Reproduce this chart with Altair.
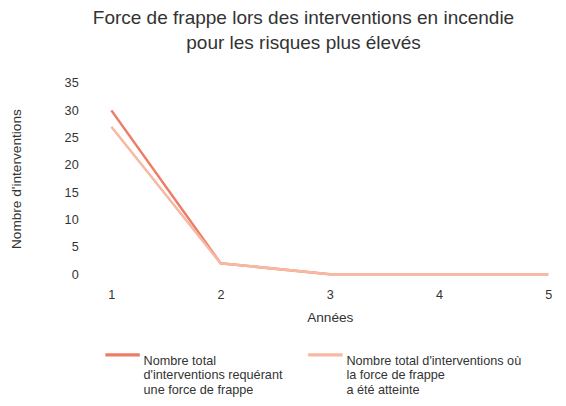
import altair as alt
import pandas as pd

years = [1, 2, 3, 4, 5]
series_names = [
    "Nombre total|d'interventions requérant|une force de frappe",
    "Nombre total d'interventions où|la force de frappe|a été atteinte",
]
requerant = [30, 2, 0, 0, 0]
atteinte = [27, 2, 0, 0, 0]
colors = ["#ee7d68", "#f7b9a4"]

rows = []
for y, v in zip(years, requerant):
    rows.append({"Année": y, "Valeur": v, "Série": series_names[0]})
for y, v in zip(years, atteinte):
    rows.append({"Année": y, "Valeur": v, "Série": series_names[1]})
df = pd.DataFrame(rows)

FONT = "Liberation Sans Narrow, Liberation Sans, Arial Narrow, sans-serif"

chart = alt.Chart(df).mark_line(strokeWidth=2.6).encode(
    x=alt.X("Année:Q",
            scale=alt.Scale(domain=[1, 5], nice=False, zero=False),
            axis=alt.Axis(values=years, format="d", title="Années",
                          labelPadding=15, titlePadding=9, tickSize=0,
                          domain=False, grid=False, labelFontSize=13,
                          titleFontSize=14, labelColor="#333",
                          titleColor="#333", labelFont=FONT, titleFont=FONT,
                          titleFontWeight="normal", labelFlush=False)),
    y=alt.Y("Valeur:Q",
            scale=alt.Scale(domain=[0, 35], nice=False),
            axis=alt.Axis(values=[0, 5, 10, 15, 20, 25, 30, 35],
                          title="Nombre d'interventions",
                          labelPadding=34, tickSize=0, domain=False,
                          grid=False, labelFontSize=13, titleFontSize=14,
                          labelColor="#333", titleColor="#333",
                          labelFont=FONT, titleFont=FONT,
                          titleFontWeight="normal", titleX=-90)),
    color=alt.Color("Série:N",
                    scale=alt.Scale(domain=series_names, range=colors),
                    legend=alt.Legend(title=None, orient="none",
                                      legendX=-8, legendY=259,
                                      direction="horizontal", columns=2,
                                      symbolType="stroke", symbolSize=1250,
                                      symbolStrokeWidth=3.5,
                                      labelExpr="split(datum.label, '|')",
                                      labelFont=FONT, labelFontSize=13,
                                      labelColor="#333", labelLimit=300,
                                      labelOffset=2, columnPadding=18,
                                      labelBaseline="top")),
    detail="Série:N",
).properties(
    width=448,
    height=196,
    title=alt.TitleParams(
        text=["Force de frappe lors des interventions en incendie",
              "pour les risques plus élevés"],
        font=FONT, fontSize=19.5, fontWeight="normal", color="#333",
        anchor="middle", offset=24, dx=-27, lineHeight=26,
    ),
    autosize=alt.AutoSizeParams(type="none"),
    padding={"left": 106, "top": 72, "right": 10, "bottom": 124},
).configure_view(stroke=None)

chart.save("out.html", embed_options={"renderer": "svg", "actions": False})
